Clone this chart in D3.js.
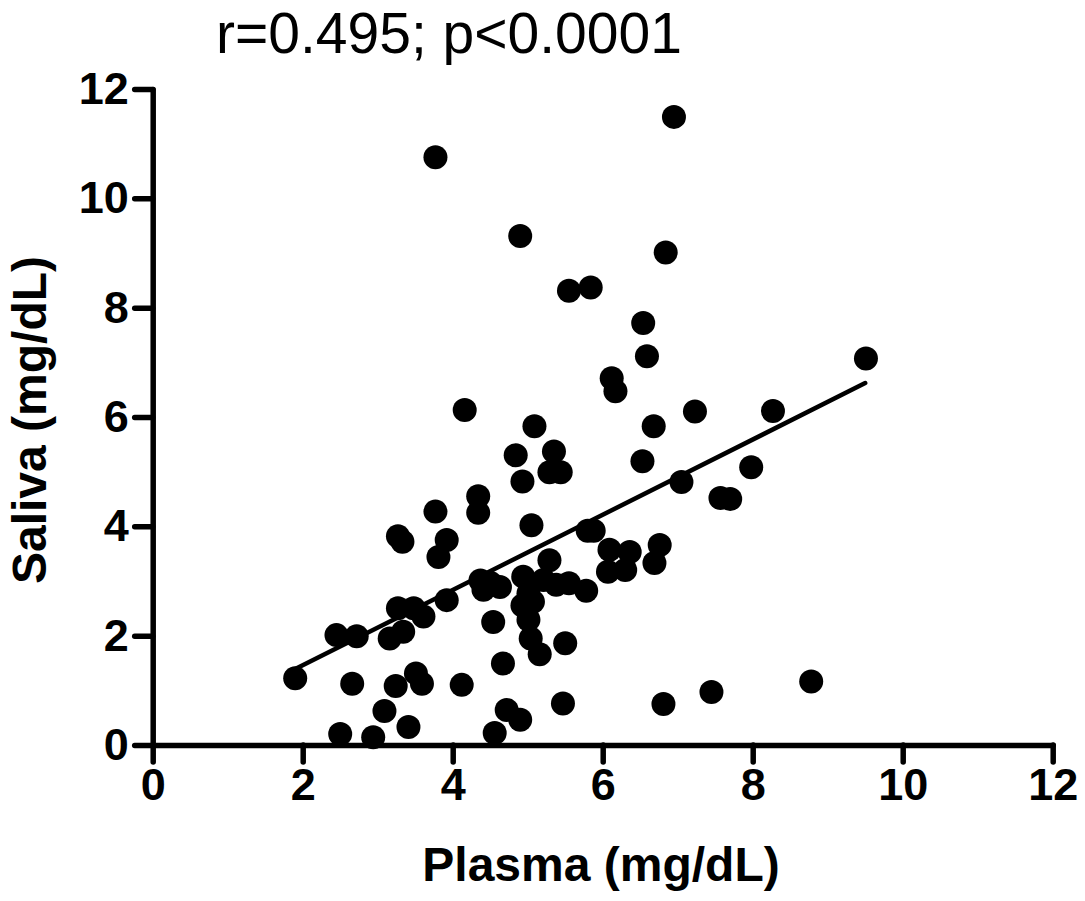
<!DOCTYPE html>
<html>
<head>
<meta charset="utf-8">
<script src="https://cdn.jsdelivr.net/npm/d3@7"></script>
<style>
  body { margin: 0; background: #fff; }
  svg { display: block; font-family: Arial, "Liberation Sans", sans-serif; }
  .axis path, .axis line { stroke: #000; stroke-width: 5.5px; stroke-linecap: round; }
  .axis text { font-size: 45px; font-weight: bold; fill: #000; font-family: Arial, "Liberation Sans", sans-serif; }
</style>
</head>
<body>
<script>
// plasma (x) and saliva (y) values
var plasma = [1.90, 2.45, 2.72, 2.50, 2.66, 2.94, 3.09, 3.16, 3.24, 3.27,
              3.33, 3.27, 3.34, 3.41, 3.48, 3.51, 3.59, 3.61, 3.77, 3.77,
              3.81, 3.92, 3.92, 4.12, 4.16, 4.34, 4.34, 4.37, 4.41, 4.63,
              4.54, 4.56, 4.67, 4.72, 4.84, 4.90, 4.90, 4.93, 4.94, 5.01,
              4.93, 5.07, 5.01, 5.05, 5.09, 5.04, 5.16, 5.21, 5.29, 5.35,
              5.29, 5.44, 5.38, 5.55, 5.50, 5.47, 5.55, 5.78, 5.80, 5.88,
              5.84, 6.09, 6.36, 6.07, 6.30, 6.12, 6.17, 6.53, 6.54, 6.59,
              6.68, 6.69, 6.76, 6.81, 6.84, 6.95, 7.05, 7.23, 7.45, 7.57,
              7.70, 7.98, 8.27, 8.78, 9.51, 4.50];
var saliva = [1.22, 2.01, 1.99, 0.20, 1.12, 0.14, 0.62, 1.95, 1.08, 3.82,
              3.72, 2.50, 2.07, 0.33, 2.50, 1.31, 1.12, 2.35, 4.27, 10.75,
              3.44, 3.75, 2.65, 1.10, 6.13, 4.55, 4.25, 3.01, 2.84, 2.89,
              2.25, 0.22, 1.49, 0.64, 5.30, 9.31, 0.46, 4.82, 3.08, 2.77,
              2.55, 2.62, 2.29, 4.02, 5.83, 1.95, 1.66, 3.02, 3.38, 5.37,
              4.99, 4.99, 2.93, 2.96, 1.86, 0.76, 8.31, 2.82, 3.92, 3.92,
              8.37, 3.57, 3.53, 3.17, 3.20, 6.71, 6.47, 5.19, 7.72, 7.11,
              5.83, 3.33, 3.66, 0.75, 9.01, 11.49, 4.81, 6.10, 0.97, 4.52,
              4.50, 5.08, 6.11, 1.16, 7.07, 2.97];

// regression line end points
var fitX = [1.90, 9.50];
var fitY = [1.39, 6.62];

var xTicks = [0, 2, 4, 6, 8, 10, 12];
var yTicks = [0, 2, 4, 6, 8, 10, 12];

var width = 1085, height = 901;

var svg = d3.select("body").append("svg")
    .attr("width", width)
    .attr("height", height);

var x = d3.scaleLinear().domain([0, 12]).range([152.7, 1052.7]);
var y = d3.scaleLinear().domain([0, 12]).range([745, 89]);

//title
svg.append("text")
    .attr("x", 216)
    .attr("y", 53)
    .style("font-size", "57px")
    .text("r=0.495; p<0.0001");

//points
var pts = plasma.map(function(d, i) { return {x: d, y: saliva[i]}; });
svg.selectAll(".dot")
    .data(pts)
    .enter().append("circle")
    .attr("class", "dot")
    .attr("cx", function(d) { return x(d.x); })
    .attr("cy", function(d) { return y(d.y); })
    .attr("r", 12)
    .style("fill", "#000");

//fit line
var line = d3.line()
    .x(function(d) { return x(d[0]); })
    .y(function(d) { return y(d[1]); });
svg.append("path")
    .datum(fitX.map(function(d, i) { return [d, fitY[i]]; }))
    .attr("d", line)
    .style("fill", "none")
    .style("stroke", "#000")
    .style("stroke-width", 4.5)
    .style("stroke-linecap", "round");

//axes
var xAxis = svg.append("g")
    .attr("class", "axis")
    .attr("transform", "translate(0," + y(0) + ")")
    .call(d3.axisBottom(x).tickValues(xTicks).tickSize(17).tickSizeOuter(0).tickPadding(6));

var yAxis = svg.append("g")
    .attr("class", "axis")
    .attr("transform", "translate(" + x(0) + ",0)")
    .call(d3.axisLeft(y).tickValues(yTicks).tickSize(18).tickSizeOuter(0).tickPadding(6));

xAxis.selectAll("text").attr("dy", "0.71em");

//axis titles
svg.append("text")
    .attr("x", 601)
    .attr("y", 881)
    .attr("text-anchor", "middle")
    .style("font-size", "48px")
    .style("font-weight", "bold")
    .text("Plasma (mg/dL)");

svg.append("text")
    .attr("transform", "translate(46," + 420 + ") rotate(-90)")
    .attr("text-anchor", "middle")
    .style("font-size", "48px")
    .style("font-weight", "bold")
    .text("Saliva (mg/dL)");
</script>
</body>
</html>
